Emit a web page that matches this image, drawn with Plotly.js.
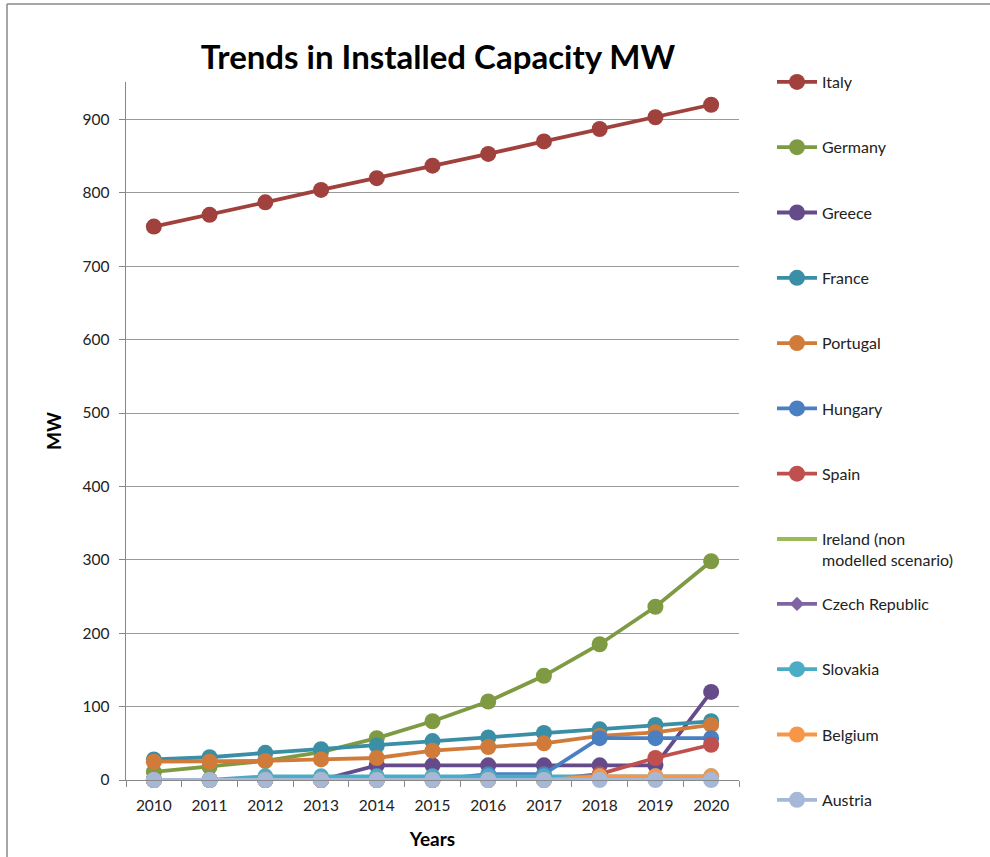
<!DOCTYPE html>
<html>
<head>
<meta charset="utf-8">
<script src="https://cdn.plot.ly/plotly-3.0.1.min.js"></script>
<style>html,body{margin:0;padding:0;background:#fff;}#chart{width:990px;height:857px;}</style>
</head>
<body>
<div id="chart"></div>
<script>
const years = ["2010","2011","2012","2013","2014","2015","2016","2017","2018","2019","2020"];
const italy    = [754, 770, 787, 804, 820, 837, 853, 870, 887, 903, 920];
const germany  = [11, 18, 26, 38, 57, 80, 107, 142, 185, 236, 298];
const greece   = [0, 0, 0, 0, 20, 20, 20, 20, 20, 20, 120];
const france   = [28, 31, 37, 42, 47, 53, 58, 64, 69, 75, 80];
const portugal = [25, 25, 26, 28, 30, 40, 45, 50, 60, 65, 75];
const hungary  = [0, 0, 0, 0, 0, 0, 8, 8, 57, 57, 57];
const spain    = [0, 0, 0, 0, 0, 0, 0, 0, 8, 30, 48];
const ireland  = [0, 0, 0, 0, 0, 0, 0, 0, 0, 0, 0];
const czech    = [0, 0, 0, 0, 0, 0, 0, 0, 0, 0, 5];
const slovakia = [0, 0, 5, 5, 5, 5, 5, 5, 5, 5, 5];
const belgium  = [0, 0, 0, 0, 0, 0, 0, 0, 5, 5, 5];
const austria  = [0, 0, 0, 0, 0, 0, 0, 0, 0, 0, 0];

const seriesNames = ["Italy","Germany","Greece","France","Portugal","Hungary","Spain",
  "Ireland (non<br>modelled scenario)","Czech Republic","Slovakia","Belgium","Austria"];
const seriesData = [italy, germany, greece, france, portugal, hungary, spain, ireland, czech, slovakia, belgium, austria];
const colors = ["#A0413D","#7E9B44","#664B8B","#3A8EA6","#D17B3A","#4A7FC1","#C0504D",
  "#9BBB59","#8064A2","#4BACC6","#F79646","#A5B8D8"];
const symbols = ["circle","circle","circle","circle","circle","circle","circle",
  null,"diamond","circle","circle","circle"];

const FONT = "Lato, 'Open Sans', sans-serif";

const traces = seriesNames.map((n, i) => {
  const t = {
    type: "scatter",
    x: years,
    y: seriesData[i],
    name: n,
    legend: i < 8 ? "legend" : "legend2",
    legendgroup: "g" + i,
    line: {color: colors[i], width: 3.8},
    cliponaxis: false
  };
  if (symbols[i]) {
    t.mode = "lines+markers";
    t.marker = {symbol: symbols[i], size: symbols[i] === "diamond" ? 11 : 16, color: colors[i]};
  } else {
    t.mode = "lines";
  }
  return t;
});

const L = 126, R = 739, T = 82, B = 780, W = 990, H = 857;
const pw = R - L, ph = B - T;
const px = v => (v - L) / pw;
const py = v => (B - v) / ph;

const legendBase = {
  x: px(772), xanchor: "left",
  yanchor: "top",
  font: {family: FONT, size: 16, color: "#222"},
  tracegroupgap: 41.5,
  itemwidth: 40,
  valign: "top",
  maxheight: 900,
  bgcolor: "rgba(0,0,0,0)"
};

const layout = {
  width: W, height: H,
  margin: {l: L, r: W - R, t: T, b: H - B},
  paper_bgcolor: "#fff",
  plot_bgcolor: "#fff",
  font: {family: FONT, color: "#222", size: 15},
  title: {
    text: "<b>Trends in Installed Capacity MW</b>",
    font: {family: FONT, size: 33, color: "#000"},
    x: 438 / W, xanchor: "center",
    y: 1 - 57 / H, yanchor: "middle"
  },
  showlegend: true,
  legend: Object.assign({}, legendBase, {y: py(65)}),
  legend2: Object.assign({}, legendBase, {y: py(587)}),
  xaxis: {
    type: "category",
    range: [-0.5, 10.5],
    tickson: "boundaries",
    ticks: "outside",
    ticklen: 6,
    tickcolor: "#888",
    ticklabelstandoff: 11,
    showline: true,
    linecolor: "#888",
    linewidth: 1.3,
    showgrid: false,
    zeroline: false,
    tickfont: {family: FONT, size: 15.5, color: "#222"},
    title: {text: "<b>Years</b>", font: {family: FONT, size: 19, color: "#000"}, standoff: 19}
  },
  yaxis: {
    range: [0, 951],
    dtick: 100,
    tick0: 0,
    ticks: "outside",
    ticklen: 6,
    tickcolor: "#888",
    ticklabelstandoff: 6,
    showline: true,
    linecolor: "#888",
    linewidth: 1.3,
    showgrid: true,
    gridcolor: "#9a9a9a",
    gridwidth: 1,
    zeroline: false,
    tickfont: {family: FONT, size: 15.5, color: "#222"},
    title: {text: "<b>MW</b>", font: {family: FONT, size: 19, color: "#000"}, standoff: 16}
  },
  shapes: [
    {type: "line", xref: "paper", yref: "paper", x0: px(7), x1: px(7), y0: py(4), y1: py(870),
     line: {color: "#888", width: 1.5}},
    {type: "line", xref: "paper", yref: "paper", x0: px(7), x1: px(1000), y0: py(4), y1: py(4),
     line: {color: "#888", width: 1.5}}
  ]
};

Plotly.newPlot("chart", traces, layout, {displayModeBar: false, staticPlot: true});
</script>
</body>
</html>
